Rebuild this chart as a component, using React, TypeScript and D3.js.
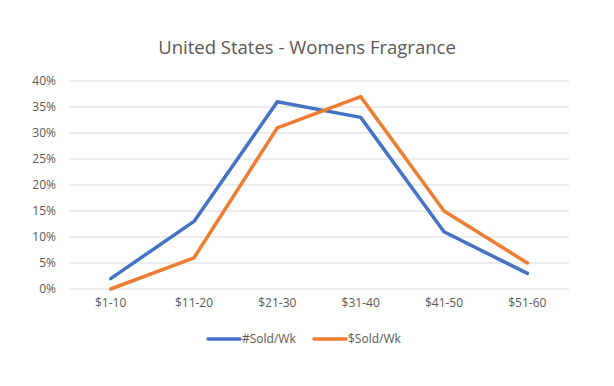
import React from "react";
import * as d3 from "d3";

const categories = ["$1-10", "$11-20", "$21-30", "$31-40", "$41-50", "$51-60"];
const soldUnits = [2, 13, 36, 33, 11, 3];
const soldDollars = [0, 6, 31, 37, 15, 5];
const yTicks = [0, 5, 10, 15, 20, 25, 30, 35, 40];
const seriesNames = ["#Sold/Wk", "$Sold/Wk"];
const colors = ["#4472C4", "#ED7D31"];

const W = 614;
const H = 386;
const font = "'Open Sans', 'Liberation Sans', sans-serif";

export default function App() {
  const x = d3.scaleBand().domain(categories).range([69, 569]);
  const y = d3.scaleLinear().domain([0, 40]).range([289, 81]);

  const line = d3
    .line<number>()
    .x((d, i) => (x(categories[i]) as number) + x.bandwidth() / 2)
    .y((d) => y(d));

  const series = [soldUnits, soldDollars];

  return (
    <svg
      width={W}
      height={H}
      style={{ position: "absolute", left: 0, top: 0, background: "#fff" }}
      fontFamily={font}
    >
      <rect width={W} height={H} fill="#fff" />
      <text x={307} y={54} textAnchor="middle" fontSize={18.5} fill="#595959">
        United States - Womens Fragrance
      </text>

      {yTicks.map((t) => (
        <g key={t}>
          <line x1={69} x2={569} y1={y(t)} y2={y(t)} stroke="#D9D9D9" strokeWidth={1} />
          <text x={56} y={y(t)} dy="0.35em" textAnchor="end" fontSize={12} fill="#595959">
            {t}%
          </text>
        </g>
      ))}

      {categories.map((c) => (
        <text
          key={c}
          x={(x(c) as number) + x.bandwidth() / 2}
          y={307}
          textAnchor="middle"
          fontSize={12}
          fill="#595959"
        >
          {c}
        </text>
      ))}

      {series.map((s, i) => (
        <path
          key={i}
          d={line(s) as string}
          fill="none"
          stroke={colors[i]}
          strokeWidth={3.5}
          strokeLinejoin="round"
          strokeLinecap="round"
        />
      ))}

      {seriesNames.map((n, i) => {
        const lx = i === 0 ? 208 : 314;
        return (
          <g key={n}>
            <line x1={lx} x2={lx + 32} y1={339} y2={339} stroke={colors[i]} strokeWidth={3.5} strokeLinecap="round" />
            <text x={lx + 34} y={339} dy="0.35em" fontSize={12} fill="#595959">
              {n}
            </text>
          </g>
        );
      })}
    </svg>
  );
}
